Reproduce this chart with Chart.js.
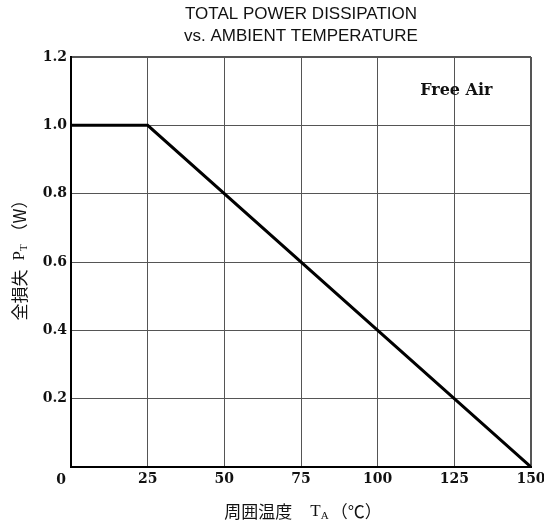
<!DOCTYPE html>
<html>
<head>
<meta charset="utf-8">
<script src="https://cdn.jsdelivr.net/npm/chart.js@4/dist/chart.umd.min.js"></script>
<style>
  html, body { margin: 0; padding: 0; background: #fff; }
</style>
</head>
<body>
<canvas id="pt" width="544" height="529"></canvas>
<script>
  // derating curve
  const tempC = [0, 25, 150];        // ambient temperature (°C)
  const powerW = [1.0, 1.0, 0];      // total power dissipation (W)
  const xTicks = [0, 25, 50, 75, 100, 125, 150];
  const yTicks = [0, 0.2, 0.4, 0.6, 0.8, 1.0, 1.2];
  const titleLines = ['TOTAL POWER DISSIPATION', 'vs. AMBIENT TEMPERATURE'];
  const noteText = 'Free Air';

  const tickFont = { family: '"DejaVu Serif"', size: 14, weight: 'bold' };
  const cjk = '17px "Noto Sans CJK JP"';

  // draw a row of text pieces (for the subscripts in the axis titles)
  function drawParts(ctx, parts, cx, cy) {
    let total = 0;
    parts.forEach(p => {
      ctx.font = p.font;
      p.w = ctx.measureText(p.t).width;
      total += p.w + (p.gap || 0);
    });
    let x = cx - total / 2;
    ctx.textAlign = 'left';
    ctx.textBaseline = 'middle';
    parts.forEach(p => {
      ctx.font = p.font;
      ctx.fillText(p.t, x, cy + (p.dy || 0));
      x += p.w + (p.gap || 0);
    });
  }

  const extraText = {
    id: 'extraText',
    afterDraw(chart) {
      const { ctx, chartArea: a, scales } = chart;
      ctx.save();
      ctx.fillStyle = '#111';

      // shared "0" under the corner
      ctx.font = 'bold 14px "DejaVu Serif"';
      ctx.textAlign = 'center';
      ctx.textBaseline = 'middle';
      ctx.fillText('0', scales.x.getPixelForValue(0) - 10, a.bottom + 13);

      // Free Air note
      ctx.font = 'bold 16px "DejaVu Serif"';
      ctx.fillText(noteText, scales.x.getPixelForValue(125) + 2, scales.y.getPixelForValue(1.1));

      // x axis title
      drawParts(ctx, [
        { t: '周囲温度', font: cjk, gap: 18 },
        { t: 'T', font: '17px "Liberation Serif"' },
        { t: 'A', font: '11px "Liberation Serif"', dy: 4, gap: 2 },
        { t: '（℃）', font: cjk }
      ], (a.left + a.right) / 2 + 2, 512);

      // y axis title
      ctx.translate(20, 256);
      ctx.rotate(-Math.PI / 2);
      drawParts(ctx, [
        { t: '全損失', font: cjk, gap: 9 },
        { t: 'P', font: '17px "Liberation Serif"' },
        { t: 'T', font: '11px "Liberation Serif"', dy: 4, gap: 4 },
        { t: '（W）', font: cjk }
      ], 0, 0);
      ctx.restore();
    }
  };

  const edge = (v, max) => Math.abs(v - max) < 1e-9 ? 2 : 1;

  new Chart(document.getElementById('pt').getContext('2d'), {
    type: 'line',
    data: {
      datasets: [{
        data: tempC.map((t, i) => ({ x: t, y: powerW[i] })),
        borderColor: '#000',
        borderWidth: 3,
        pointRadius: 0,
        tension: 0,
        fill: false
      }]
    },
    options: {
      responsive: false,
      animation: false,
      layout: { padding: { left: 0, right: 13, top: 0, bottom: 0 } },
      plugins: {
        legend: { display: false },
        tooltip: { enabled: false },
        title: {
          display: true,
          text: titleLines,
          fullSize: false,
          color: '#111',
          font: { family: '"Liberation Sans"', size: 17, weight: 'normal', lineHeight: 1.25 },
          padding: { top: 4, bottom: 10.5 }
        }
      },
      scales: {
        x: {
          type: 'linear',
          min: 0,
          max: 150,
          afterBuildTicks: s => { s.ticks = xTicks.map(v => ({ value: v })); },
          afterFit: s => { s.height = 62; s.paddingLeft = 0; s.paddingRight = 0; },
          ticks: {
            color: '#111',
            font: tickFont,
            padding: 4,
            maxRotation: 0,
            callback: v => v === 0 ? '' : String(v)
          },
          grid: {
            drawTicks: false,
            color: '#555',
            lineWidth: c => c.tick ? edge(c.tick.value, 150) : 1
          },
          border: { display: true, color: '#000', width: 2 }
        },
        y: {
          min: 0,
          max: 1.2,
          afterBuildTicks: s => { s.ticks = yTicks.map(v => ({ value: v })); },
          afterFit: s => { s.width = 71; s.paddingTop = 0; s.paddingBottom = 0; },
          ticks: {
            color: '#111',
            font: tickFont,
            padding: 4,
            callback: v => v === 0 ? '' : v.toFixed(1)
          },
          grid: {
            drawTicks: false,
            color: '#555',
            lineWidth: c => c.tick ? edge(c.tick.value, 1.2) : 1
          },
          border: { display: true, color: '#000', width: 2 }
        }
      }
    },
    plugins: [extraText]
  });
</script>
</body>
</html>
